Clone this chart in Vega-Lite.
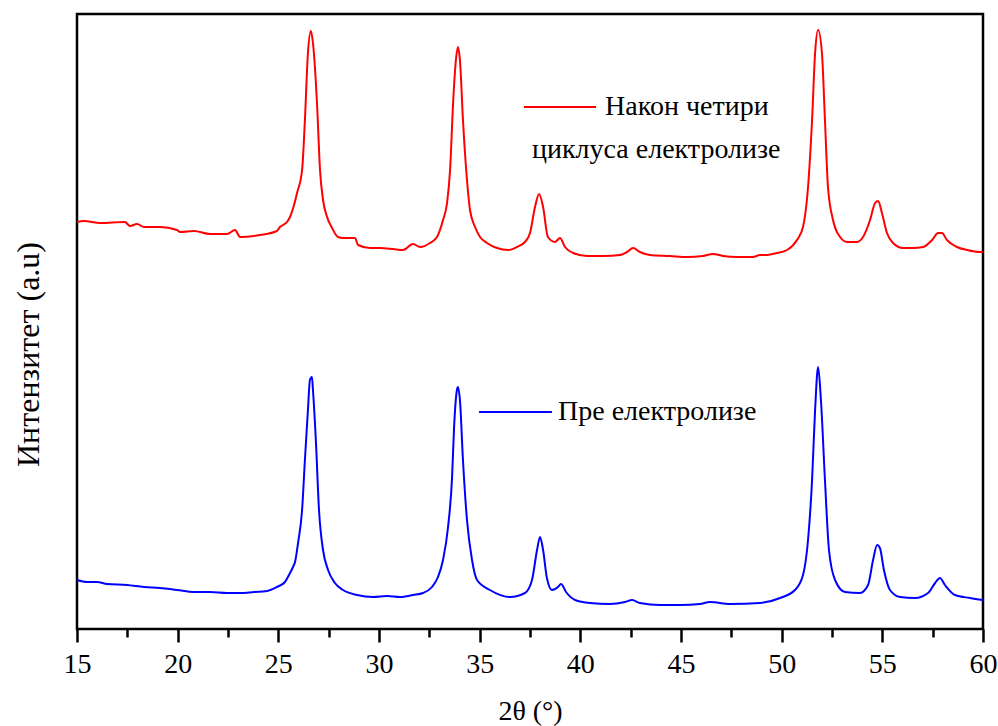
{
  "$schema": "https://vega.github.io/schema/vega-lite/v6.json",
  "width": 906,
  "height": 615,
  "autosize": {"type": "none"},
  "padding": {"left": 77, "top": 14, "right": 15, "bottom": 97},
  "background": "white",
  "config": {
    "view": {"stroke": "black", "strokeWidth": 2.5},
    "font": "Liberation Serif, Times New Roman, serif",
    "axis": {"grid": false, "domain": false, "labelColor": "black", "titleColor": "black", "titleFontWeight": "normal", "labelFont": "Liberation Serif, Times New Roman, serif", "titleFont": "Liberation Serif, Times New Roman, serif"}
  },
  "datasets": {
    "xrd": [
      {"sample": "after", "theta": 15.00, "intensity": 407},
      {"sample": "after", "theta": 15.35, "intensity": 408},
      {"sample": "after", "theta": 16.14, "intensity": 406},
      {"sample": "after", "theta": 17.38, "intensity": 407},
      {"sample": "after", "theta": 17.63, "intensity": 403},
      {"sample": "after", "theta": 17.98, "intensity": 405},
      {"sample": "after", "theta": 18.33, "intensity": 402},
      {"sample": "after", "theta": 19.12, "intensity": 402},
      {"sample": "after", "theta": 19.97, "intensity": 399},
      {"sample": "after", "theta": 20.12, "intensity": 397},
      {"sample": "after", "theta": 20.81, "intensity": 398},
      {"sample": "after", "theta": 21.61, "intensity": 395},
      {"sample": "after", "theta": 22.45, "intensity": 395},
      {"sample": "after", "theta": 22.85, "intensity": 399},
      {"sample": "after", "theta": 23.10, "intensity": 392},
      {"sample": "after", "theta": 24.09, "intensity": 394},
      {"sample": "after", "theta": 24.93, "intensity": 398},
      {"sample": "after", "theta": 25.08, "intensity": 402},
      {"sample": "after", "theta": 25.43, "intensity": 407},
      {"sample": "after", "theta": 25.58, "intensity": 412},
      {"sample": "after", "theta": 25.78, "intensity": 424},
      {"sample": "after", "theta": 25.93, "intensity": 436},
      {"sample": "after", "theta": 26.18, "intensity": 459},
      {"sample": "after", "theta": 26.32, "intensity": 509},
      {"sample": "after", "theta": 26.47, "intensity": 576},
      {"sample": "after", "theta": 26.62, "intensity": 598},
      {"sample": "after", "theta": 26.72, "intensity": 586},
      {"sample": "after", "theta": 26.92, "intensity": 526},
      {"sample": "after", "theta": 27.07, "intensity": 459},
      {"sample": "after", "theta": 27.22, "intensity": 429},
      {"sample": "after", "theta": 27.42, "intensity": 412},
      {"sample": "after", "theta": 27.67, "intensity": 401},
      {"sample": "after", "theta": 27.96, "intensity": 392},
      {"sample": "after", "theta": 28.21, "intensity": 391},
      {"sample": "after", "theta": 28.81, "intensity": 391},
      {"sample": "after", "theta": 28.96, "intensity": 384},
      {"sample": "after", "theta": 29.55, "intensity": 381},
      {"sample": "after", "theta": 30.05, "intensity": 381},
      {"sample": "after", "theta": 30.70, "intensity": 380},
      {"sample": "after", "theta": 31.19, "intensity": 379},
      {"sample": "after", "theta": 31.69, "intensity": 385},
      {"sample": "after", "theta": 32.04, "intensity": 382},
      {"sample": "after", "theta": 32.53, "intensity": 386},
      {"sample": "after", "theta": 32.88, "intensity": 392},
      {"sample": "after", "theta": 33.18, "intensity": 409},
      {"sample": "after", "theta": 33.38, "intensity": 426},
      {"sample": "after", "theta": 33.53, "intensity": 459},
      {"sample": "after", "theta": 33.68, "intensity": 526},
      {"sample": "after", "theta": 33.82, "intensity": 569},
      {"sample": "after", "theta": 33.92, "intensity": 582},
      {"sample": "after", "theta": 34.02, "intensity": 569},
      {"sample": "after", "theta": 34.17, "intensity": 509},
      {"sample": "after", "theta": 34.37, "intensity": 449},
      {"sample": "after", "theta": 34.52, "intensity": 419},
      {"sample": "after", "theta": 34.77, "intensity": 402},
      {"sample": "after", "theta": 35.02, "intensity": 392},
      {"sample": "after", "theta": 35.36, "intensity": 386},
      {"sample": "after", "theta": 35.86, "intensity": 381},
      {"sample": "after", "theta": 36.41, "intensity": 379},
      {"sample": "after", "theta": 36.85, "intensity": 382},
      {"sample": "after", "theta": 37.25, "intensity": 387},
      {"sample": "after", "theta": 37.50, "intensity": 396},
      {"sample": "after", "theta": 37.75, "intensity": 422},
      {"sample": "after", "theta": 37.95, "intensity": 435},
      {"sample": "after", "theta": 38.15, "intensity": 422},
      {"sample": "after", "theta": 38.39, "intensity": 392},
      {"sample": "after", "theta": 38.74, "intensity": 387},
      {"sample": "after", "theta": 38.99, "intensity": 391},
      {"sample": "after", "theta": 39.24, "intensity": 382},
      {"sample": "after", "theta": 39.64, "intensity": 376},
      {"sample": "after", "theta": 40.33, "intensity": 373},
      {"sample": "after", "theta": 41.13, "intensity": 373},
      {"sample": "after", "theta": 41.97, "intensity": 374},
      {"sample": "after", "theta": 42.32, "intensity": 377},
      {"sample": "after", "theta": 42.62, "intensity": 381},
      {"sample": "after", "theta": 42.96, "intensity": 377},
      {"sample": "after", "theta": 43.46, "intensity": 374},
      {"sample": "after", "theta": 44.45, "intensity": 373},
      {"sample": "after", "theta": 45.30, "intensity": 372},
      {"sample": "after", "theta": 46.09, "intensity": 373},
      {"sample": "after", "theta": 46.59, "intensity": 375},
      {"sample": "after", "theta": 47.09, "intensity": 373},
      {"sample": "after", "theta": 47.78, "intensity": 372},
      {"sample": "after", "theta": 48.58, "intensity": 372},
      {"sample": "after", "theta": 48.92, "intensity": 374},
      {"sample": "after", "theta": 49.27, "intensity": 374},
      {"sample": "after", "theta": 49.77, "intensity": 376},
      {"sample": "after", "theta": 50.27, "intensity": 379},
      {"sample": "after", "theta": 50.76, "intensity": 389},
      {"sample": "after", "theta": 51.06, "intensity": 402},
      {"sample": "after", "theta": 51.31, "intensity": 442},
      {"sample": "after", "theta": 51.51, "intensity": 509},
      {"sample": "after", "theta": 51.66, "intensity": 576},
      {"sample": "after", "theta": 51.81, "intensity": 599},
      {"sample": "after", "theta": 52.00, "intensity": 576},
      {"sample": "after", "theta": 52.15, "intensity": 509},
      {"sample": "after", "theta": 52.30, "intensity": 442},
      {"sample": "after", "theta": 52.55, "intensity": 409},
      {"sample": "after", "theta": 52.90, "intensity": 392},
      {"sample": "after", "theta": 53.25, "intensity": 387},
      {"sample": "after", "theta": 53.74, "intensity": 387},
      {"sample": "after", "theta": 54.04, "intensity": 392},
      {"sample": "after", "theta": 54.39, "intensity": 409},
      {"sample": "after", "theta": 54.64, "intensity": 426},
      {"sample": "after", "theta": 54.79, "intensity": 428},
      {"sample": "after", "theta": 54.98, "intensity": 416},
      {"sample": "after", "theta": 55.23, "intensity": 396},
      {"sample": "after", "theta": 55.53, "intensity": 386},
      {"sample": "after", "theta": 56.03, "intensity": 381},
      {"sample": "after", "theta": 56.52, "intensity": 381},
      {"sample": "after", "theta": 57.02, "intensity": 382},
      {"sample": "after", "theta": 57.47, "intensity": 389},
      {"sample": "after", "theta": 57.77, "intensity": 396},
      {"sample": "after", "theta": 57.96, "intensity": 396},
      {"sample": "after", "theta": 58.21, "intensity": 389},
      {"sample": "after", "theta": 58.71, "intensity": 382},
      {"sample": "after", "theta": 59.21, "intensity": 379},
      {"sample": "after", "theta": 59.85, "intensity": 377},
      {"sample": "after", "theta": 60.00, "intensity": 377},
      {"sample": "before", "theta": 15.00, "intensity": 49},
      {"sample": "before", "theta": 15.50, "intensity": 47},
      {"sample": "before", "theta": 15.99, "intensity": 47},
      {"sample": "before", "theta": 16.49, "intensity": 45},
      {"sample": "before", "theta": 17.48, "intensity": 44},
      {"sample": "before", "theta": 18.33, "intensity": 42},
      {"sample": "before", "theta": 19.12, "intensity": 41},
      {"sample": "before", "theta": 19.97, "intensity": 39},
      {"sample": "before", "theta": 20.81, "intensity": 37},
      {"sample": "before", "theta": 21.61, "intensity": 37},
      {"sample": "before", "theta": 22.45, "intensity": 36},
      {"sample": "before", "theta": 23.10, "intensity": 36},
      {"sample": "before", "theta": 23.79, "intensity": 37},
      {"sample": "before", "theta": 24.44, "intensity": 38},
      {"sample": "before", "theta": 24.93, "intensity": 42},
      {"sample": "before", "theta": 25.33, "intensity": 47},
      {"sample": "before", "theta": 25.58, "intensity": 56},
      {"sample": "before", "theta": 25.73, "intensity": 62},
      {"sample": "before", "theta": 25.83, "intensity": 67},
      {"sample": "before", "theta": 25.98, "intensity": 86},
      {"sample": "before", "theta": 26.18, "intensity": 119},
      {"sample": "before", "theta": 26.32, "intensity": 169},
      {"sample": "before", "theta": 26.47, "intensity": 219},
      {"sample": "before", "theta": 26.57, "intensity": 249},
      {"sample": "before", "theta": 26.67, "intensity": 252},
      {"sample": "before", "theta": 26.72, "intensity": 239},
      {"sample": "before", "theta": 26.87, "intensity": 186},
      {"sample": "before", "theta": 27.02, "intensity": 119},
      {"sample": "before", "theta": 27.22, "intensity": 79},
      {"sample": "before", "theta": 27.47, "intensity": 59},
      {"sample": "before", "theta": 27.81, "intensity": 46},
      {"sample": "before", "theta": 28.21, "intensity": 39},
      {"sample": "before", "theta": 28.91, "intensity": 34},
      {"sample": "before", "theta": 29.70, "intensity": 32},
      {"sample": "before", "theta": 30.40, "intensity": 33},
      {"sample": "before", "theta": 31.04, "intensity": 32},
      {"sample": "before", "theta": 31.69, "intensity": 34},
      {"sample": "before", "theta": 32.19, "intensity": 36},
      {"sample": "before", "theta": 32.63, "intensity": 42},
      {"sample": "before", "theta": 32.93, "intensity": 52},
      {"sample": "before", "theta": 33.18, "intensity": 69},
      {"sample": "before", "theta": 33.43, "intensity": 102},
      {"sample": "before", "theta": 33.63, "intensity": 152},
      {"sample": "before", "theta": 33.73, "intensity": 202},
      {"sample": "before", "theta": 33.87, "intensity": 239},
      {"sample": "before", "theta": 33.92, "intensity": 242},
      {"sample": "before", "theta": 34.02, "intensity": 229},
      {"sample": "before", "theta": 34.17, "intensity": 169},
      {"sample": "before", "theta": 34.37, "intensity": 109},
      {"sample": "before", "theta": 34.62, "intensity": 69},
      {"sample": "before", "theta": 34.87, "intensity": 49},
      {"sample": "before", "theta": 35.51, "intensity": 39},
      {"sample": "before", "theta": 36.51, "intensity": 32},
      {"sample": "before", "theta": 37.25, "intensity": 36},
      {"sample": "before", "theta": 37.60, "intensity": 49},
      {"sample": "before", "theta": 37.85, "intensity": 79},
      {"sample": "before", "theta": 38.00, "intensity": 92},
      {"sample": "before", "theta": 38.15, "intensity": 79},
      {"sample": "before", "theta": 38.34, "intensity": 51},
      {"sample": "before", "theta": 38.59, "intensity": 39},
      {"sample": "before", "theta": 38.89, "intensity": 42},
      {"sample": "before", "theta": 39.04, "intensity": 45},
      {"sample": "before", "theta": 39.29, "intensity": 37},
      {"sample": "before", "theta": 39.74, "intensity": 29},
      {"sample": "before", "theta": 40.48, "intensity": 26},
      {"sample": "before", "theta": 41.47, "intensity": 25},
      {"sample": "before", "theta": 42.22, "intensity": 27},
      {"sample": "before", "theta": 42.57, "intensity": 29},
      {"sample": "before", "theta": 42.96, "intensity": 26},
      {"sample": "before", "theta": 43.96, "intensity": 24},
      {"sample": "before", "theta": 44.95, "intensity": 24},
      {"sample": "before", "theta": 45.94, "intensity": 25},
      {"sample": "before", "theta": 46.44, "intensity": 27},
      {"sample": "before", "theta": 47.43, "intensity": 25},
      {"sample": "before", "theta": 48.92, "intensity": 26},
      {"sample": "before", "theta": 49.92, "intensity": 31},
      {"sample": "before", "theta": 50.66, "intensity": 39},
      {"sample": "before", "theta": 51.06, "intensity": 54},
      {"sample": "before", "theta": 51.31, "intensity": 89},
      {"sample": "before", "theta": 51.51, "intensity": 149},
      {"sample": "before", "theta": 51.66, "intensity": 219},
      {"sample": "before", "theta": 51.81, "intensity": 262},
      {"sample": "before", "theta": 51.95, "intensity": 229},
      {"sample": "before", "theta": 52.15, "intensity": 149},
      {"sample": "before", "theta": 52.35, "intensity": 79},
      {"sample": "before", "theta": 52.65, "intensity": 49},
      {"sample": "before", "theta": 53.15, "intensity": 37},
      {"sample": "before", "theta": 53.89, "intensity": 36},
      {"sample": "before", "theta": 54.29, "intensity": 44},
      {"sample": "before", "theta": 54.54, "intensity": 69},
      {"sample": "before", "theta": 54.74, "intensity": 84},
      {"sample": "before", "theta": 54.88, "intensity": 81},
      {"sample": "before", "theta": 55.08, "intensity": 59},
      {"sample": "before", "theta": 55.38, "intensity": 39},
      {"sample": "before", "theta": 55.88, "intensity": 32},
      {"sample": "before", "theta": 56.62, "intensity": 31},
      {"sample": "before", "theta": 57.27, "intensity": 36},
      {"sample": "before", "theta": 57.62, "intensity": 46},
      {"sample": "before", "theta": 57.86, "intensity": 51},
      {"sample": "before", "theta": 58.11, "intensity": 44},
      {"sample": "before", "theta": 58.61, "intensity": 34},
      {"sample": "before", "theta": 59.35, "intensity": 31},
      {"sample": "before", "theta": 60.00, "intensity": 29}
    ],
    "keys": [
      {"sample": "after", "x": 37.20, "x2": 40.78, "y": 522},
      {"sample": "before", "x": 34.97, "x2": 38.59, "y": 217}
    ],
    "labels": [
      {"x": 41.23, "y": 522, "label": "Након четири"},
      {"x": 37.60, "y": 479, "label": "циклуса електролизе"},
      {"x": 38.89, "y": 217, "label": "Пре електролизе"}
    ]
  },
  "layer": [
    {
      "data": {"name": "xrd"},
      "mark": {"type": "line", "strokeWidth": 2, "interpolate": "monotone"},
      "encoding": {
        "x": {
          "field": "theta", "type": "quantitative",
          "scale": {"domain": [15, 60], "nice": false, "zero": false},
          "axis": {
            "title": "2θ (°)",
            "values": [15, 17.5, 20, 22.5, 25, 27.5, 30, 32.5, 35, 37.5, 40, 42.5, 45, 47.5, 50, 52.5, 55, 57.5, 60],
            "labelExpr": "datum.value % 5 === 0 ? datum.label : ''",
            "tickSize": {"condition": {"test": "datum.value % 5 === 0", "value": 13}, "value": 8},
            "tickColor": "black", "tickWidth": 2.5,
            "labelFontSize": 28, "labelPadding": 8, "labelFlush": false, "labelOverlap": false,
            "titleFontSize": 28, "titlePadding": 19
          }
        },
        "y": {
          "field": "intensity", "type": "quantitative",
          "scale": {"domain": [0, 615], "nice": false},
          "axis": {
            "title": "Интензитет (a.u)",
            "ticks": false, "labels": false,
            "titleFontSize": 32, "titlePadding": 32, "titleY": 340
          }
        },
        "color": {
          "field": "sample", "type": "nominal",
          "scale": {"domain": ["after", "before"], "range": ["#ff0000", "#0000ff"]},
          "legend": null
        }
      }
    },
    {
      "data": {"name": "keys"},
      "mark": {"type": "rule", "strokeWidth": 2},
      "encoding": {
        "x": {"field": "x", "type": "quantitative"},
        "x2": {"field": "x2"},
        "y": {"field": "y", "type": "quantitative"},
        "color": {"field": "sample", "type": "nominal", "legend": null}
      }
    },
    {
      "data": {"name": "labels"},
      "mark": {"type": "text", "align": "left", "baseline": "middle", "fontSize": 28, "font": "Liberation Serif, Times New Roman, serif", "color": "black"},
      "encoding": {
        "x": {"field": "x", "type": "quantitative"},
        "y": {"field": "y", "type": "quantitative"},
        "text": {"field": "label"}
      }
    }
  ]
}
